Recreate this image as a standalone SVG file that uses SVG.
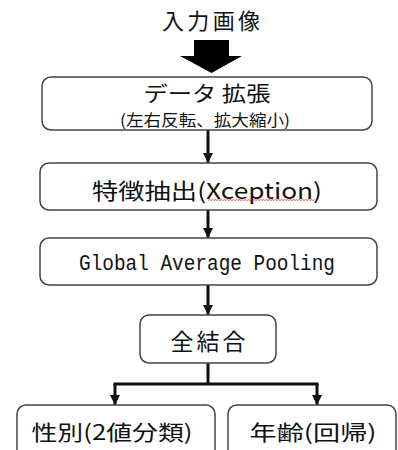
<svg xmlns="http://www.w3.org/2000/svg" width="398" height="450" viewBox="0 0 398 450">
<defs>
<style>
.box{fill:#fff;stroke:#444;stroke-width:1.5}
.jp{font-family:"Noto Sans CJK JP","Noto Sans",sans-serif;fill:#111;text-anchor:middle}
.mono{font-family:"Liberation Mono","DejaVu Sans Mono",monospace;fill:#111;text-anchor:middle}
.conn{fill:none;stroke:#111;stroke-width:3}
</style>
<marker id="ah" markerUnits="userSpaceOnUse" markerWidth="11" markerHeight="11" refX="10" refY="5.5" orient="auto" viewBox="0 0 11 11">
<path d="M0,0.5 L10,5.5 L0,10.5 z" fill="#111"/>
</marker>
</defs>
<rect width="398" height="450" fill="#fff"/>
<g id="title">
<text class="jp" x="211" y="29" font-size="22" textLength="98" lengthAdjust="spacing">入力画像</text>
<path d="M194,40 H229 V56 H242 L211.5,73 L180,56 H194 z" fill="#000"/>
</g>
<g id="connectors">
<path class="conn" d="M208,130 V163" marker-end="url(#ah)"/>
<path class="conn" d="M208,210 V238" marker-end="url(#ah)"/>
<path class="conn" d="M208,285 V315" marker-end="url(#ah)"/>
<path class="conn" d="M208,363 V384"/>
<path class="conn" d="M113.5,384 H318.5"/>
<path class="conn" d="M115,384 V405" marker-end="url(#ah)"/>
<path class="conn" d="M317,384 V405" marker-end="url(#ah)"/>
</g>
<g id="augment">
<rect class="box" x="42" y="77" width="330" height="53" rx="9"/>
<text class="jp" x="207" y="101" font-size="21" textLength="127" lengthAdjust="spacingAndGlyphs">データ 拡張</text>
<text class="jp" x="205" y="126" font-size="16" textLength="170" lengthAdjust="spacingAndGlyphs">(左右反転、拡大縮小)</text>
</g>
<g id="feature">
<rect class="box" x="40" y="163" width="337" height="47" rx="9"/>
<text class="jp" x="207" y="199" font-size="22" textLength="230" lengthAdjust="spacingAndGlyphs">特徴抽出(Xception)</text>
<path d="M208,200.5 l1.5,-1 l1.5,1 l1.5,-1 l1.5,1 l1.5,-1 l1.5,1 l1.5,-1 l1.5,1 l1.5,-1 l1.5,1 l1.5,-1 l1.5,1 l1.5,-1 l1.5,1 l1.5,-1 l1.5,1 l1.5,-1 l1.5,1 l1.5,-1 l1.5,1 l1.5,-1 l1.5,1 l1.5,-1 l1.5,1 l1.5,-1 l1.5,1 l1.5,-1 l1.5,1 l1.5,-1 l1.5,1 l1.5,-1 l1.5,1 l1.5,-1 l1.5,1 l1.5,-1 l1.5,1 l1.5,-1 l1.5,1 l1.5,-1 l1.5,1 l1.5,-1 l1.5,1 l1.5,-1 l1.5,1 l1.5,-1 l1.5,1 l1.5,-1 l1.5,1 l1.5,-1 l1.5,1 l1.5,-1 l1.5,1 l1.5,-1 l1.5,1 l1.5,-1 l1.5,1 l1.5,-1 l1.5,1 l1.5,-1 l1.5,1 l1.5,-1 l1.5,1 l1.5,-1 l1.5,1 l1.5,-1 l1.5,1 l1.5,-1 l1.5,1 l1.5,-1 l1.5,1 l1.5,-1" fill="none" stroke="#e03030" stroke-width="0.8"/>
</g>
<g id="gap">
<rect class="box" x="40" y="238" width="337" height="47" rx="9"/>
<text class="mono" x="207" y="270" font-size="22" textLength="256" lengthAdjust="spacingAndGlyphs">Global Average Pooling</text>
</g>
<g id="dense">
<rect class="box" x="140" y="315" width="136" height="48" rx="9"/>
<text class="jp" x="208" y="350" font-size="23" textLength="75" lengthAdjust="spacing">全結合</text>
</g>
<g id="gender">
<rect class="box" x="17" y="405" width="198" height="60" rx="9"/>
<text class="jp" x="112" y="440" font-size="21" textLength="161" lengthAdjust="spacingAndGlyphs">性別(2値分類)</text>
</g>
<g id="age">
<rect class="box" x="228" y="405" width="168" height="60" rx="9"/>
<text class="jp" x="313" y="440" font-size="21" textLength="127" lengthAdjust="spacingAndGlyphs">年齢(回帰)</text>
</g>
</svg>
